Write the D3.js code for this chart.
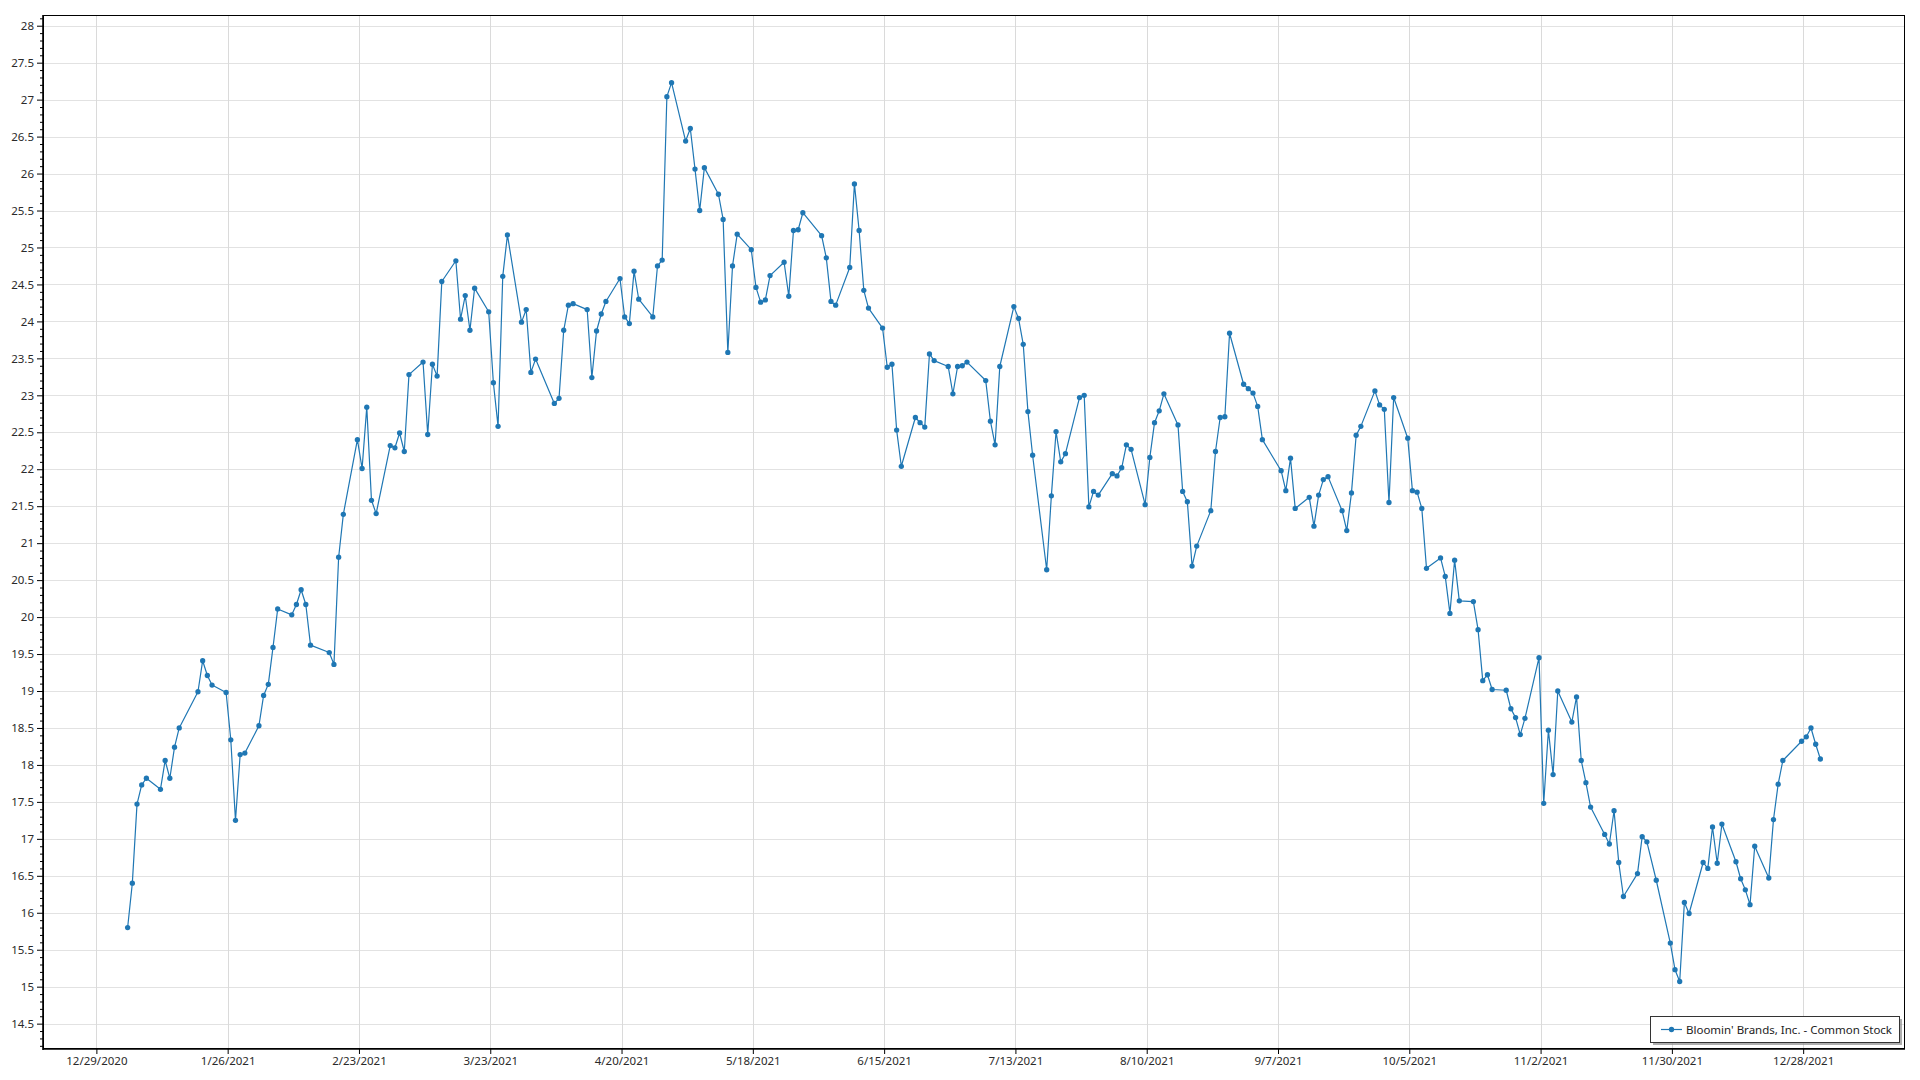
<!DOCTYPE html>
<html><head><meta charset="utf-8">
<script src="https://cdn.jsdelivr.net/npm/d3@7"></script>
<style>html,body{margin:0;padding:0;background:#fff;overflow:hidden}</style>
</head><body>
<svg id="chart" width="1920" height="1080"></svg>
<script>
const seriesName = "Bloomin' Brands, Inc. - Common Stock";
const dataYear = 2021;
// trading days (MM-DD, 2021)
const dates = [
 "01-04","01-05","01-06","01-07","01-08","01-11","01-12","01-13","01-14","01-15","01-19","01-20","01-21","01-22","01-25","01-26","01-27","01-28","01-29",
 "02-01","02-02","02-03","02-04","02-05","02-08","02-09","02-10","02-11","02-12","02-16","02-17","02-18","02-19","02-22","02-23","02-24","02-25","02-26",
 "03-01","03-02","03-03","03-04","03-05","03-08","03-09","03-10","03-11","03-12","03-15","03-16","03-17","03-18","03-19","03-22","03-23","03-24","03-25","03-26","03-29","03-30","03-31",
 "04-01","04-05","04-06","04-07","04-08","04-09","04-12","04-13","04-14","04-15","04-16","04-19","04-20","04-21","04-22","04-23","04-26","04-27","04-28","04-29","04-30",
 "05-03","05-04","05-05","05-06","05-07","05-10","05-11","05-12","05-13","05-14","05-17","05-18","05-19","05-20","05-21","05-24","05-25","05-26","05-27","05-28",
 "06-01","06-02","06-03","06-04","06-07","06-08","06-09","06-10","06-11","06-14","06-15","06-16","06-17","06-18","06-21","06-22","06-23","06-24","06-25","06-28","06-29","06-30",
 "07-01","07-02","07-06","07-07","07-08","07-09","07-12","07-13","07-14","07-15","07-16","07-19","07-20","07-21","07-22","07-23","07-26","07-27","07-28","07-29","07-30",
 "08-02","08-03","08-04","08-05","08-06","08-09","08-10","08-11","08-12","08-13","08-16","08-17","08-18","08-19","08-20","08-23","08-24","08-25","08-26","08-27","08-30","08-31",
 "09-01","09-02","09-03","09-07","09-08","09-09","09-10","09-13","09-14","09-15","09-16","09-17","09-20","09-21","09-22","09-23","09-24","09-27","09-28","09-29","09-30",
 "10-01","10-04","10-05","10-06","10-07","10-08","10-11","10-12","10-13","10-14","10-15","10-18","10-19","10-20","10-21","10-22","10-25","10-26","10-27","10-28","10-29",
 "11-01","11-02","11-03","11-04","11-05","11-08","11-09","11-10","11-11","11-12","11-15","11-16","11-17","11-18","11-19","11-22","11-23","11-24","11-26","11-29","11-30",
 "12-01","12-02","12-03","12-06","12-07","12-08","12-09","12-10","12-13","12-14","12-15","12-16","12-17","12-20","12-21","12-22","12-23","12-27","12-28","12-29","12-30","12-31"
];
const closes = [
 15.80,16.40,17.47,17.73,17.82,17.67,18.06,17.82,18.24,18.50,18.99,19.41,19.21,19.08,18.98,18.34,17.25,18.14,18.16,
 18.53,18.94,19.09,19.59,20.11,20.03,20.17,20.37,20.17,19.62,19.52,19.36,20.81,21.39,22.40,22.01,22.84,21.58,21.40,
 22.32,22.29,22.49,22.24,23.28,23.45,22.47,23.42,23.26,24.54,24.82,24.03,24.35,23.88,24.45,24.13,23.17,22.58,24.61,25.17,23.99,24.16,23.31,
 23.49,22.89,22.96,23.88,24.22,24.24,24.16,23.24,23.87,24.10,24.27,24.58,24.06,23.97,24.68,24.30,24.06,24.75,24.83,27.04,27.23,
 26.44,26.61,26.06,25.50,26.08,25.72,25.38,23.58,24.75,25.18,24.97,24.46,24.26,24.29,24.62,24.80,24.34,25.23,25.24,25.47,
 25.16,24.86,24.27,24.22,24.73,25.86,25.23,24.42,24.18,23.91,23.38,23.42,22.53,22.04,22.70,22.63,22.57,23.56,23.47,23.39,23.02,23.39,
 23.40,23.45,23.20,22.65,22.33,23.39,24.20,24.04,23.69,22.78,22.19,20.64,21.64,22.51,22.10,22.21,22.97,23.00,21.49,21.70,21.65,
 21.94,21.91,22.02,22.33,22.27,21.52,22.16,22.63,22.79,23.02,22.60,21.70,21.56,20.69,20.96,21.44,22.24,22.70,22.71,23.84,23.15,23.09,
 23.03,22.85,22.40,21.98,21.71,22.15,21.47,21.62,21.23,21.65,21.86,21.90,21.44,21.17,21.68,22.46,22.58,23.06,22.87,22.81,21.55,
 22.97,22.42,21.71,21.69,21.47,20.66,20.80,20.55,20.05,20.77,20.22,20.21,19.83,19.14,19.22,19.02,19.01,18.76,18.64,18.41,18.63,
 19.45,17.48,18.47,17.87,19.00,18.58,18.92,18.06,17.76,17.43,17.06,16.93,17.38,16.68,16.22,16.53,17.03,16.96,16.44,15.59,15.23,
 15.07,16.14,15.99,16.68,16.60,17.16,16.67,17.20,16.69,16.46,16.31,16.11,16.90,16.47,17.26,17.74,18.06,18.32,18.38,18.50,18.28,18.08
];
const xTickLabels = ["12/29/2020","1/26/2021","2/23/2021","3/23/2021","4/20/2021","5/18/2021","6/15/2021","7/13/2021","8/10/2021","9/7/2021","10/5/2021","11/2/2021","11/30/2021","12/28/2021"];
const yTickValues = [14.5,15,15.5,16,16.5,17,17.5,18,18.5,19,19.5,20,20.5,21,21.5,22,22.5,23,23.5,24,24.5,25,25.5,26,26.5,27,27.5,28];
const yDomain = [14.157, 28.145];

const W = 1920, H = 1080;
const plot = {left: 43, top: 15, right: 1905, bottom: 1049};
const FONT = "'Noto Sans', 'Open Sans', sans-serif";
const BLUE = "#1f77b4";

const parseDay = s => { const [m, d] = s.split("-").map(Number); return new Date(dataYear, m - 1, d, 16); };
const parseTick = s => { const [m, d, y] = s.split("/").map(Number); return new Date(y, m - 1, d); };
const data = dates.map((s, i) => ({date: parseDay(s), value: closes[i]}));
const tickDates = xTickLabels.map(parseTick);

const first = data[0].date, last = data[data.length - 1].date;
const span = last - first;
const x = d3.scaleTime()
  .domain([new Date(+first - span * 0.05), new Date(+last + span * 0.05)])
  .range([plot.left, plot.right]);
const y = d3.scaleLinear().domain(yDomain).range([plot.bottom, plot.top]);

const svg = d3.select("#chart");
svg.append("rect").attr("width", W).attr("height", H).attr("fill", "#fff");

// gridlines
const grid = svg.append("g");
grid.selectAll("line.h").data(yTickValues).join("line")
  .attr("x1", plot.left).attr("x2", plot.right)
  .attr("y1", d => Math.round(y(d)) + 0.5).attr("y2", d => Math.round(y(d)) + 0.5)
  .attr("stroke", "#e2e2e2").attr("stroke-width", 1);
grid.selectAll("line.v").data(tickDates).join("line")
  .attr("y1", plot.top).attr("y2", plot.bottom)
  .attr("x1", d => Math.round(x(d)) + 0.5).attr("x2", d => Math.round(x(d)) + 0.5)
  .attr("stroke", "#dadada").attr("stroke-width", 1);

// line + markers
svg.append("path").datum(data)
  .attr("fill", "none").attr("stroke", BLUE).attr("stroke-width", 1.2)
  .attr("stroke-linejoin", "round")
  .attr("d", d3.line().x(d => x(d.date)).y(d => y(d.value)));
svg.append("g").selectAll("circle").data(data).join("circle")
  .attr("cx", d => x(d.date)).attr("cy", d => y(d.value)).attr("r", 2.65)
  .attr("fill", BLUE);

// axes
const minorY = d3.range(Math.ceil(yDomain[0] * 10), Math.floor(yDomain[1] * 10) + 1).map(v => v / 10)
  .filter(v => Math.abs(v * 2 - Math.round(v * 2)) > 1e-6);
const yMinor = svg.append("g").attr("transform", `translate(${plot.left},0)`)
  .call(d3.axisLeft(y).tickValues(minorY).tickSize(3).tickFormat(""));
const yAxis = svg.append("g").attr("transform", `translate(${plot.left},0)`)
  .call(d3.axisLeft(y).tickValues(yTickValues).tickSize(6).tickPadding(3).tickFormat(d3.format("~g")));
const xAxis = svg.append("g").attr("transform", `translate(0,${plot.bottom})`)
  .call(d3.axisBottom(x).tickValues(tickDates).tickSize(5).tickPadding(3)
    .tickFormat((d, i) => xTickLabels[i]));
[yMinor, yAxis, xAxis].forEach(g => {
  g.select(".domain").remove();
  g.selectAll("line").attr("stroke", "#000");
  g.selectAll("text").attr("fill", "#2a2a2a").attr("font-family", FONT).attr("font-size", 11.5);
});

// plot frame
svg.append("rect").attr("x", plot.left + 0.5).attr("y", plot.top + 0.5)
  .attr("width", plot.right - plot.left - 1).attr("height", plot.bottom - plot.top - 1)
  .attr("fill", "none").attr("stroke", "#000").attr("stroke-width", 1);
svg.append("line").attr("x1", plot.left).attr("x2", plot.left).attr("y1", plot.top).attr("y2", plot.bottom + 1)
  .attr("stroke", "#000").attr("stroke-width", 1.6);
svg.append("line").attr("x1", plot.left).attr("x2", plot.right).attr("y1", plot.bottom).attr("y2", plot.bottom)
  .attr("stroke", "#000").attr("stroke-width", 1.6);

// legend
const lg = {x: 1650, y: 1016, w: 249, h: 26};
const leg = svg.append("g");
leg.append("rect").attr("x", lg.x + 3).attr("y", lg.y + 3).attr("width", lg.w).attr("height", lg.h)
  .attr("fill", "#8c8c8c").attr("opacity", 0.7);
leg.append("rect").attr("x", lg.x + 0.5).attr("y", lg.y + 0.5).attr("width", lg.w).attr("height", lg.h)
  .attr("fill", "#fff").attr("stroke", "#333").attr("stroke-width", 1);
const ly = lg.y + lg.h / 2 + 0.5;
leg.append("line").attr("x1", lg.x + 11).attr("x2", lg.x + 32).attr("y1", ly).attr("y2", ly)
  .attr("stroke", BLUE).attr("stroke-width", 1.2);
leg.append("circle").attr("cx", lg.x + 21.5).attr("cy", ly).attr("r", 2.65).attr("fill", BLUE);
leg.append("text").attr("x", lg.x + 36).attr("y", ly).attr("dy", "0.35em")
  .attr("font-family", FONT).attr("font-size", 11.5).attr("fill", "#222").text(seriesName);
</script>
</body></html>
